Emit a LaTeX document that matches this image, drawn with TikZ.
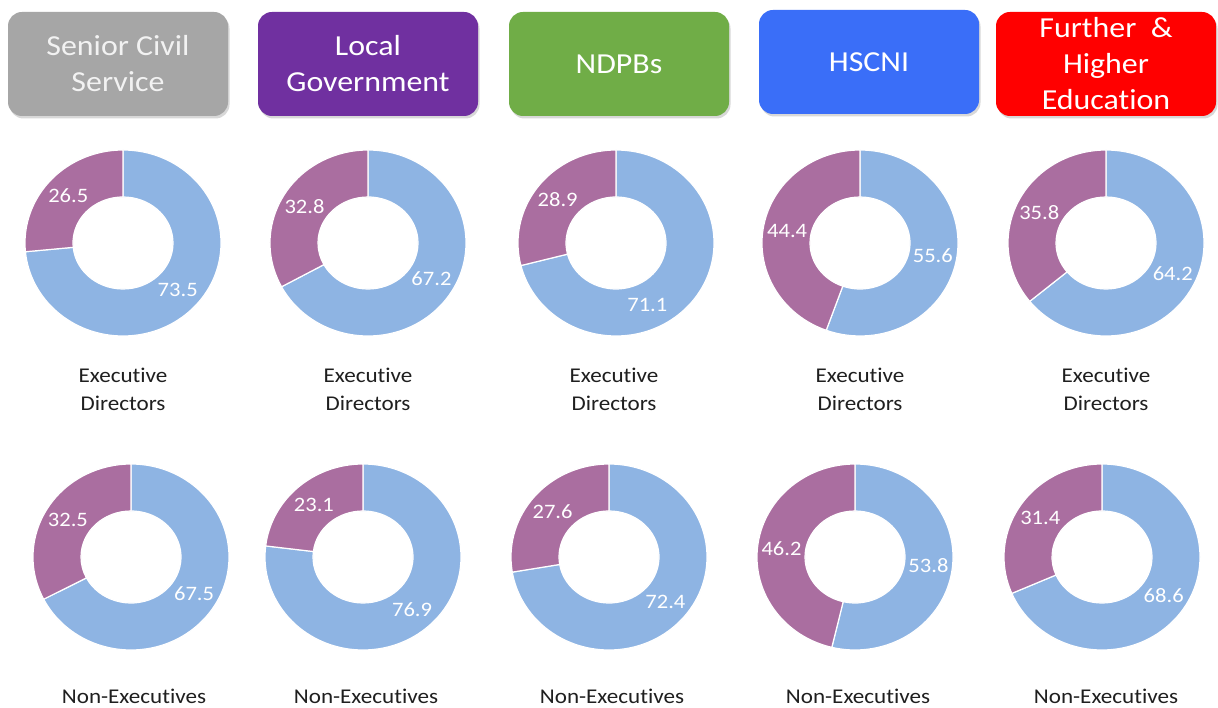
\documentclass[tikz,border=0pt]{standalone}
\usepackage{fontspec}
\setmainfont{Carlito}[FakeStretch=1.1, Ligatures=NoCommon]
\usetikzlibrary{calc}
\definecolor{segblue}{HTML}{8EB4E3}
\definecolor{segpurple}{HTML}{AA6EA0}
\definecolor{hgray}{HTML}{A6A6A6}
\definecolor{hpurple}{HTML}{7030A0}
\definecolor{hgreen}{HTML}{70AD47}
\definecolor{hblue}{HTML}{3A6EF8}
\definecolor{hred}{HTML}{FF0000}
\definecolor{captxt}{HTML}{1F1F1F}
\definecolor{graytxt}{HTML}{F2F2F2}
\begin{document}
\begin{tikzpicture}[x=1pt,y=1pt,
  header/.style={rounded corners=14pt, minimum width=220pt, minimum height=104pt,
    align=center, text=white, inner sep=0pt,
    font=\fontsize{29}{36}\selectfont,
    preaction={fill=black!30, fill opacity=0.5, transform canvas={xshift=1.5pt,yshift=-2.5pt}}},
  seg/.style={fill=#1, draw=white, line width=1.2pt},
  vlabel/.style={text=white, font=\fontsize{20.5}{24}\selectfont, inner sep=0pt},
  caption/.style={text=captxt, align=center, font=\fontsize{21}{28}\selectfont, inner sep=0pt}]
\useasboundingbox (0,0) rectangle (1218,-708);
\fill[white] (0,0) rectangle (1218,-708);

% headers
\node[header, fill=hgray, text=graytxt] (h1) at (118,-64) {Senior Civil\\Service};
\node[header, fill=hpurple] (h2) at (368,-64) {Local\\Government};
\node[header, fill=hgreen] (h3) at (619,-64) {NDPBs};
\node[header, fill=hblue] (h4) at (869,-62) {HSCNI};
\node[header, fill=hred] (h5) at (1106,-64) {Further \ \&\\Higher\\Education};

% donuts
\foreach \n/\cx/\cy/\b/\bl/\pl/\ox/\oy in {
  a1/123/243/73.5/73.5/26.5/0/0,
  a2/368/243/67.2/67.2/32.8/0/0,
  a3/616/243/71.1/71.1/28.9/-27/-19,
  a4/860/243/55.6/55.6/44.4/0/0,
  a5/1106/243/64.2/64.2/35.8/0/0,
  b1/131/557/67.5/67.5/32.5/0/0,
  b2/363/557/76.9/76.9/23.1/0/0,
  b3/609/557/72.4/72.4/27.6/0/0,
  b4/855/557/53.8/53.8/46.2/0/0,
  b5/1102/557/68.6/68.6/31.4/0/0}
{
  \pgfmathsetmacro\e{90-3.6*\b}
  \pgfmathsetmacro\mb{(90+\e)/2}
  \pgfmathsetmacro\mp{(\e-270)/2}
  \coordinate (c\n) at (\cx,-\cy);
  \path[seg=segblue] ($(c\n)+(90:98pt and 93pt)$)
    arc[start angle=90, end angle=\e, x radius=98pt, y radius=93pt]
    -- ($(c\n)+(\e:50pt and 46pt)$)
    arc[start angle=\e, end angle=90, x radius=50pt, y radius=46pt] -- cycle;
  \path[seg=segpurple] ($(c\n)+(\e:98pt and 93pt)$)
    arc[start angle=\e, end angle=-270, x radius=98pt, y radius=93pt]
    -- ($(c\n)+(-270:50pt and 46pt)$)
    arc[start angle=-270, end angle=\e, x radius=50pt, y radius=46pt] -- cycle;
  \node[vlabel] (vb\n) at ($(c\n)+(\mb:74pt and 70pt)+(\ox,\oy)$) {\bl};
  \node[vlabel] (vp\n) at ($(c\n)+(\mp:74pt and 70pt)$) {\pl};
}

% captions
\foreach \n/\cx in {1/123,2/368,3/614,4/860,5/1106}
  \node[caption] (ex\n) at (\cx,-389) {Executive\\Directors};
\foreach \n/\cx in {1/134,2/366,3/612,4/858,5/1106}
  \node[caption] (ne\n) at (\cx,-696) {Non-Executives};
\end{tikzpicture}
\end{document}
